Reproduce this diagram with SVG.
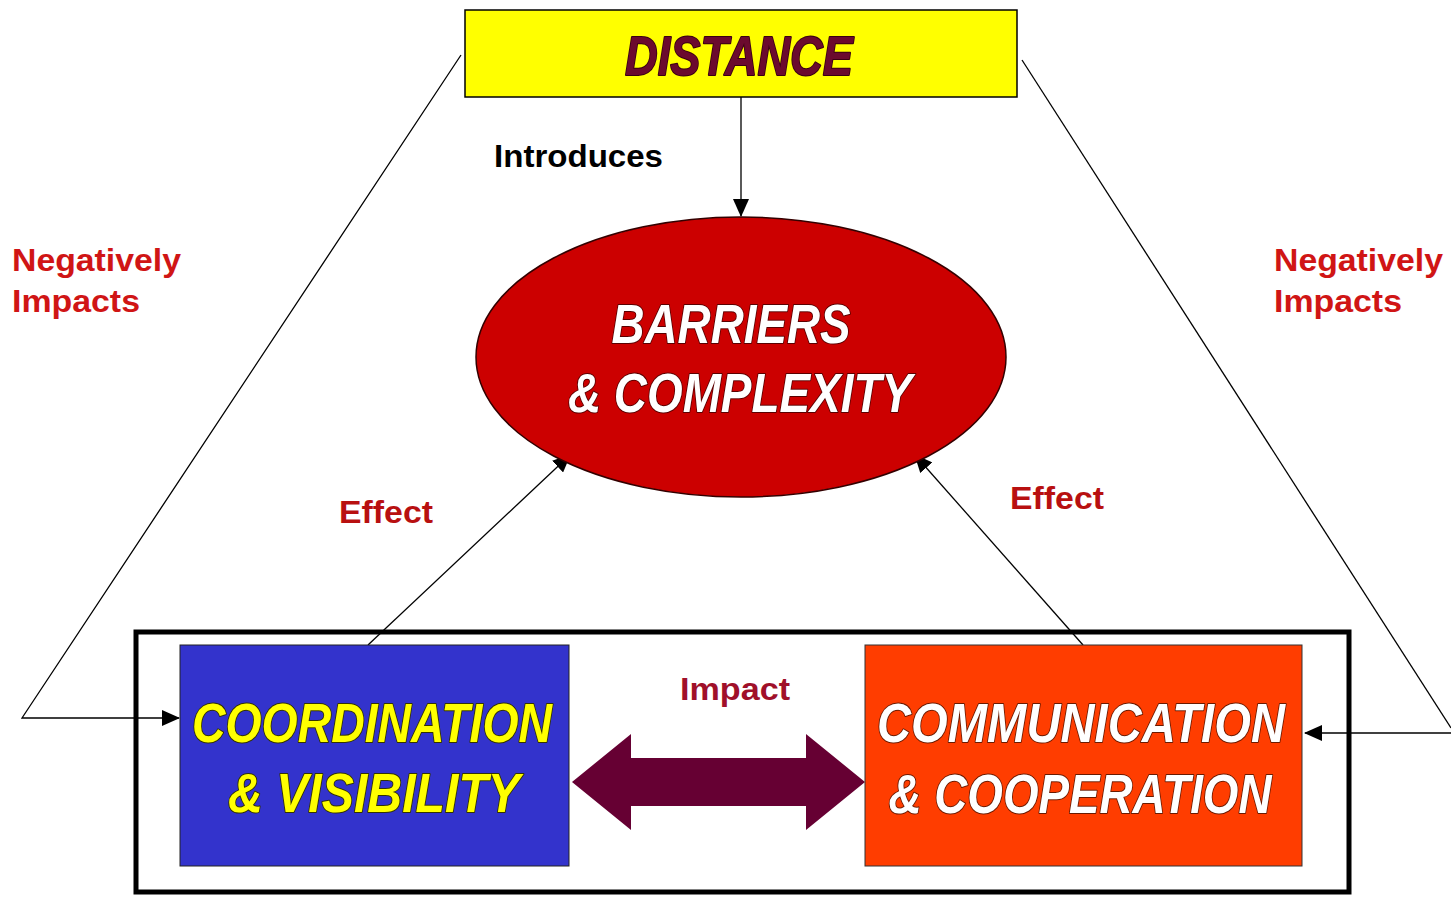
<svg xmlns="http://www.w3.org/2000/svg" width="1451" height="898" viewBox="0 0 1451 898">
<style>
.lbl{font-family:"Liberation Sans",Arial,sans-serif;font-weight:bold;}
.big{font-family:"Liberation Sans",Arial,sans-serif;font-weight:bold;font-style:italic;font-size:55px;paint-order:stroke;stroke-width:2;stroke-linejoin:round;}
.conn{stroke:#000;stroke-width:1.3;fill:none;}
</style>
<defs>
<marker id="ah" markerWidth="10" markerHeight="10" refX="9" refY="5" orient="auto" markerUnits="userSpaceOnUse" viewBox="0 0 10 10">
<path d="M0,0 L10,5 L0,10 z" fill="#000"/>
</marker>
<marker id="ahb" markerWidth="18" markerHeight="16" refX="17" refY="8" orient="auto" markerUnits="userSpaceOnUse" viewBox="0 0 18 16">
<path d="M0,0 L18,8 L0,16 z" fill="#000"/>
</marker>
</defs>
<rect width="1451" height="898" fill="#fff"/>

<g id="container">
<rect x="136" y="632" width="1213" height="260" fill="none" stroke="#000" stroke-width="5"/>
</g>

<g id="connectors">
<line class="conn" x1="741" y1="97" x2="741" y2="216" marker-end="url(#ahb)"/>
<polyline class="conn" points="461,55 22,718 179,718" marker-end="url(#ahb)"/>
<polyline class="conn" points="1022,60 1451,728"/>
<line class="conn" x1="1451" y1="733" x2="1305" y2="733" marker-end="url(#ahb)"/>
<line class="conn" x1="368" y1="645" x2="570" y2="455" marker-end="url(#ahb)"/>
<line class="conn" x1="1083" y1="645" x2="915" y2="455" marker-end="url(#ahb)"/>
<path id="impact-arrow" d="M572,782 L631,734 L631,758 L806,758 L806,734 L865,782 L806,830 L806,806 L631,806 L631,830 Z" fill="#660033"/>
</g>

<g id="distance">
<rect x="465" y="10" width="552" height="87" fill="#ffff00" stroke="#000" stroke-width="1.5"/>
<text class="big" x="739" y="75" text-anchor="middle" fill="#6b0a2e" stroke="#3a0010" stroke-width="1" textLength="228" lengthAdjust="spacingAndGlyphs">DISTANCE</text>
</g>

<g id="barriers">
<ellipse cx="741" cy="357" rx="265" ry="140" fill="#cc0000" stroke="#300" stroke-width="1.5"/>
<text class="big" x="731" y="343" text-anchor="middle" fill="#fff" stroke="#5a0000" textLength="239" lengthAdjust="spacingAndGlyphs">BARRIERS</text>
<text class="big" x="740" y="412" text-anchor="middle" fill="#fff" stroke="#5a0000" textLength="344" lengthAdjust="spacingAndGlyphs">&amp; COMPLEXITY</text>
</g>

<g id="coordination">
<rect x="180" y="645" width="389" height="221" fill="#3333cc" stroke="#222" stroke-width="1"/>
<text class="big" x="372" y="742" text-anchor="middle" fill="#ffff00" stroke="#333300" textLength="360" lengthAdjust="spacingAndGlyphs">COORDINATION</text>
<text class="big" x="374" y="812" text-anchor="middle" fill="#ffff00" stroke="#333300" textLength="292" lengthAdjust="spacingAndGlyphs">&amp; VISIBILITY</text>
</g>

<g id="communication">
<rect x="865" y="645" width="437" height="221" fill="#ff3d00" stroke="#333" stroke-width="1"/>
<text class="big" x="1081" y="742" text-anchor="middle" fill="#fff" stroke="#6a1a00" textLength="408" lengthAdjust="spacingAndGlyphs">COMMUNICATION</text>
<text class="big" x="1080" y="813" text-anchor="middle" fill="#fff" stroke="#6a1a00" textLength="383" lengthAdjust="spacingAndGlyphs">&amp; COOPERATION</text>
</g>

<g id="labels">
<text class="lbl" x="494" y="167" font-size="31" fill="#000" textLength="169" lengthAdjust="spacingAndGlyphs">Introduces</text>
<text class="lbl" x="12" y="271" font-size="31" fill="#d01515" textLength="169" lengthAdjust="spacingAndGlyphs">Negatively</text>
<text class="lbl" x="12" y="312" font-size="31" fill="#d01515" textLength="128" lengthAdjust="spacingAndGlyphs">Impacts</text>
<text class="lbl" x="1274" y="271" font-size="31" fill="#d01515" textLength="169" lengthAdjust="spacingAndGlyphs">Negatively</text>
<text class="lbl" x="1274" y="312" font-size="31" fill="#d01515" textLength="128" lengthAdjust="spacingAndGlyphs">Impacts</text>
<text class="lbl" x="339" y="523" font-size="31" fill="#b81010" textLength="94" lengthAdjust="spacingAndGlyphs">Effect</text>
<text class="lbl" x="1010" y="509" font-size="31" fill="#b81010" textLength="94" lengthAdjust="spacingAndGlyphs">Effect</text>
<text class="lbl" x="680" y="700" font-size="31" fill="#a0102a" textLength="110" lengthAdjust="spacingAndGlyphs">Impact</text>
</g>
</svg>
